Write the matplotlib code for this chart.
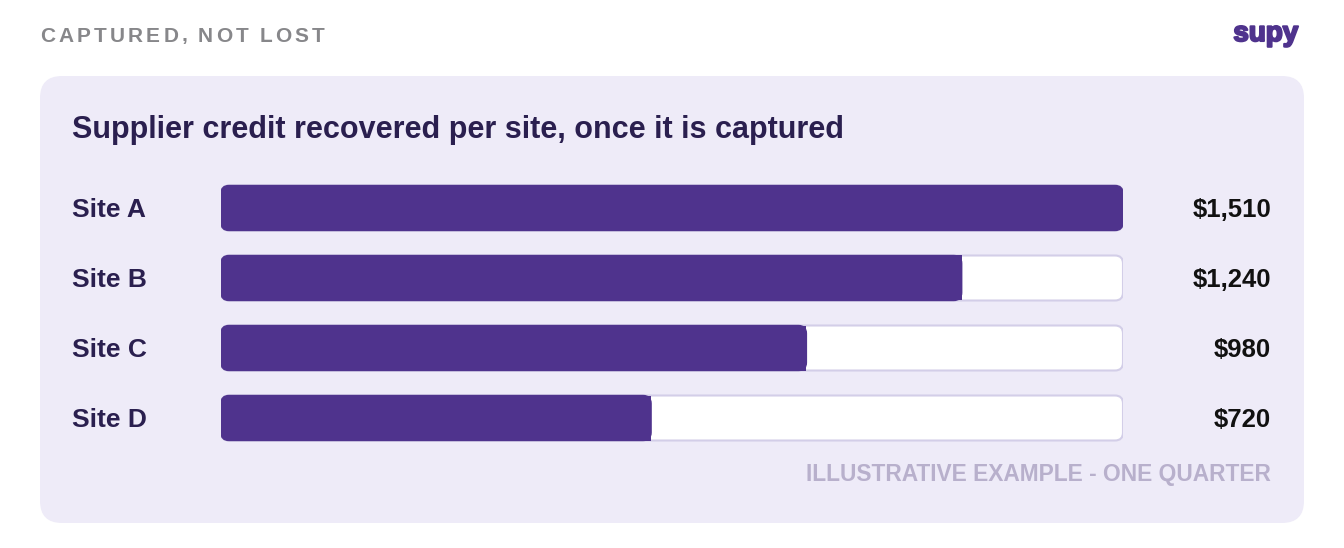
import matplotlib
matplotlib.use("Agg")
import matplotlib.pyplot as plt
from matplotlib.patches import FancyBboxPatch, Rectangle
import matplotlib.patheffects as pe

sites = ["Site A", "Site B", "Site C", "Site D"]
values = [1510, 1240, 980, 720]
value_labels = ["$1,510", "$1,240", "$980", "$720"]

W, H = 1344, 548
fig = plt.figure(figsize=(W/100, H/100), dpi=100)
fig.patch.set_facecolor("white")
plt.rcParams['font.family'] = ['Liberation Sans', 'DejaVu Sans']
bg = fig.add_axes([0, 0, 1, 1])
bg.set_xlim(0, W); bg.set_ylim(H, 0); bg.axis("off")

bg.add_patch(FancyBboxPatch((40, 76), 1264, 447, boxstyle="round,pad=0,rounding_size=22",
                            fc="#EEEBF8", ec="none"))

header = "CAPTURED, NOT LOST"
r = fig.canvas.get_renderer()
x = 40
for ch in header:
    t = bg.text(x, 36, ch, fontsize=15, fontweight="bold", color="#87878a", va="center", ha="left")
    w = t.get_window_extent(r).width if ch != " " else 4.5
    x += w + 3.2

bg.text(1298, 34, "supy", fontsize=20, fontweight="bold", color="#4F338D", va="center", ha="right",
        path_effects=[pe.withStroke(linewidth=1.5, foreground="#4F338D")])
bg.text(72, 130, "Supplier credit recovered per site, once it is captured", fontsize=22,
        fontweight="bold", color="#2A1F4F", va="center", ha="left")
bg.text(1271, 475, "ILLUSTRATIVE EXAMPLE - ONE QUARTER", fontsize=16.4, fontweight="bold",
        color="#B8B0CC", va="center", ha="right")

x0, x1 = 221, 1123
top, bot = 173, 453
ax = fig.add_axes([x0/W, 1-bot/H, (x1-x0)/W, (bot-top)/H])
vmax = max(values)
xu = vmax/(x1-x0)
step = 70*xu
ax.set_xlim(0, vmax); ax.set_ylim(3.5*step, -0.5*step); ax.axis("off")
bh = 45*xu
rs = 8*xu
for i, (s, v, lab) in enumerate(zip(sites, values, value_labels)):
    yc = i*step
    ax.add_patch(FancyBboxPatch((0, yc-bh/2), vmax, bh,
                                boxstyle=f"round,pad=0,rounding_size={rs}",
                                fc="white", ec="#D3CEE8", lw=1.5, zorder=1))
    ax.add_patch(FancyBboxPatch((0, yc-bh/2), v, bh,
                                boxstyle=f"round,pad=0,rounding_size={rs}",
                                fc="#4F338D", ec="#4F338D", lw=1.0, zorder=2))
    if v < vmax:
        ax.add_patch(Rectangle((v-2*rs, yc-bh/2), 2*rs, bh, fc="#4F338D", ec="none", zorder=3))
    bg.text(72, 210+70*i, s, fontsize=19, fontweight="bold", color="#2A1F4F", va="center", ha="left")
    bg.text(1271, 210+70*i, lab, fontsize=18.5, fontweight="bold", color="#111111", va="center", ha="right")

fig.savefig("out.png", dpi=100)
